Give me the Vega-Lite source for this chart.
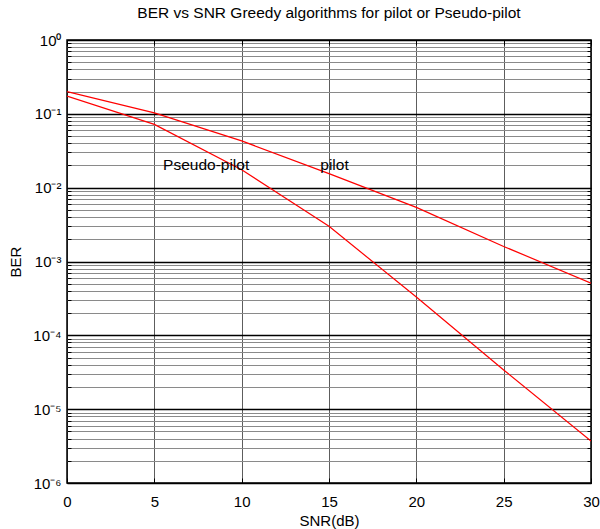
{
  "$schema": "https://vega.github.io/schema/vega-lite/v6.json",
  "autosize": {"type": "none"},
  "width": 524,
  "height": 443,
  "padding": {"left": 67, "top": 40, "right": 9, "bottom": 46},
  "background": "white",
  "config": {
    "font": "Liberation Sans",
    "view": {"stroke": "black", "strokeWidth": 1.5},
    "axis": {"domain": false, "labelFont": "Liberation Sans", "titleFont": "Liberation Sans", "labelColor": "black", "titleColor": "black", "titleFontWeight": "normal", "labelFontSize": 15, "titleFontSize": 15}
  },
  "title": {"text": "BER vs SNR Greedy algorithms for pilot or Pseudo-pilot", "fontSize": 15.5, "fontWeight": "normal", "font": "Liberation Sans", "color": "black", "offset": 12, "anchor": "middle"},
  "resolve": {"axis": {"x": "independent", "y": "independent"}},
  "data": {"values": [
    {"snr": 0, "ber": 0.2, "series": "pilot"},
    {"snr": 5, "ber": 0.103, "series": "pilot"},
    {"snr": 10, "ber": 0.043, "series": "pilot"},
    {"snr": 15, "ber": 0.0155, "series": "pilot"},
    {"snr": 20, "ber": 0.0054, "series": "pilot"},
    {"snr": 25, "ber": 0.0016, "series": "pilot"},
    {"snr": 30, "ber": 0.00051, "series": "pilot"},
    {"snr": 0, "ber": 0.174, "series": "Pseudo-pilot"},
    {"snr": 5, "ber": 0.072, "series": "Pseudo-pilot"},
    {"snr": 10, "ber": 0.0175, "series": "Pseudo-pilot"},
    {"snr": 15, "ber": 0.003, "series": "Pseudo-pilot"},
    {"snr": 20, "ber": 0.00033, "series": "Pseudo-pilot"},
    {"snr": 25, "ber": 0.000034, "series": "Pseudo-pilot"},
    {"snr": 30, "ber": 0.0000037, "series": "Pseudo-pilot"}
  ]},
  "layer": [
    {
      "mark": {"type": "line", "color": "#ff0000", "strokeWidth": 1.2, "clip": true},
      "encoding": {
        "x": {"field": "snr", "type": "quantitative",
          "scale": {"domain": [0, 30], "nice": false, "zero": false},
          "axis": {"title": "SNR(dB)", "values": [0, 5, 10, 15, 20, 25, 30], "grid": true, "gridColor": "black", "gridOpacity": 0.8, "gridWidth": 0.8, "tickSize": -5, "tickColor": "black", "labelPadding": 16, "titlePadding": 4, "labelFlush": false}},
        "y": {"field": "ber", "type": "quantitative",
          "scale": {"type": "log", "domain": [0.000001, 1], "nice": false},
          "axis": {
            "title": "BER", "titlePadding": 9,
            "values": [0.000001,0.000002,0.000003,0.000004,0.000005,0.000006,0.000007,0.000008,0.000009,
                       0.00001,0.00002,0.00003,0.00004,0.00005,0.00006,0.00007,0.00008,0.00009,
                       0.0001,0.0002,0.0003,0.0004,0.0005,0.0006,0.0007,0.0008,0.0009,
                       0.001,0.002,0.003,0.004,0.005,0.006,0.007,0.008,0.009,
                       0.01,0.02,0.03,0.04,0.05,0.06,0.07,0.08,0.09,
                       0.1,0.2,0.3,0.4,0.5,0.6,0.7,0.8,0.9,1],
            "labelExpr": "datum.value == 1 ? '10⁰' : abs(datum.value - 0.1) < 1e-9 ? '10⁻¹' : abs(datum.value - 0.01) < 1e-10 ? '10⁻²' : abs(datum.value - 0.001) < 1e-11 ? '10⁻³' : abs(datum.value - 0.0001) < 1e-12 ? '10⁻⁴' : abs(datum.value - 0.00001) < 1e-13 ? '10⁻⁵' : abs(datum.value - 0.000001) < 1e-14 ? '10⁻⁶' : ''",
            "labelOverlap": false,
            "labelBaseline": "middle",
            "labelPadding": 12,
            "grid": true,
            "gridColor": {"condition": {"test": "abs(log(datum.value)/LN10 - round(log(datum.value)/LN10)) < 1e-6", "value": "black"}, "value": "#8a8a8a"},
            "gridWidth": {"condition": {"test": "abs(log(datum.value)/LN10 - round(log(datum.value)/LN10)) < 1e-6", "value": 1.5}, "value": 1},
            "tickColor": "black",
            "tickSize": {"condition": {"test": "abs(log(datum.value)/LN10 - round(log(datum.value)/LN10)) < 1e-6", "value": -6}, "value": -4}
          }},
        "detail": {"field": "series", "type": "nominal"}
      }
    },
    {
      "data": {"values": [
        {"snr": 5.5, "ber": 0.0202, "label": "Pseudo-pilot"},
        {"snr": 14.5, "ber": 0.0202, "label": "pilot"}
      ]},
      "mark": {"type": "text", "align": "left", "baseline": "middle", "fontSize": 15.5, "font": "Liberation Sans", "color": "black"},
      "encoding": {
        "x": {"field": "snr", "type": "quantitative",
          "axis": {"orient": "top", "values": [0, 5, 10, 15, 20, 25, 30], "labels": false, "title": null, "grid": false, "tickSize": -5, "tickColor": "black"}},
        "y": {"field": "ber", "type": "quantitative",
          "axis": {"orient": "right", "labels": false, "title": null, "grid": false, "tickColor": "black",
            "values": [0.000001,0.000002,0.000003,0.000004,0.000005,0.000006,0.000007,0.000008,0.000009,
                       0.00001,0.00002,0.00003,0.00004,0.00005,0.00006,0.00007,0.00008,0.00009,
                       0.0001,0.0002,0.0003,0.0004,0.0005,0.0006,0.0007,0.0008,0.0009,
                       0.001,0.002,0.003,0.004,0.005,0.006,0.007,0.008,0.009,
                       0.01,0.02,0.03,0.04,0.05,0.06,0.07,0.08,0.09,
                       0.1,0.2,0.3,0.4,0.5,0.6,0.7,0.8,0.9,1],
            "tickSize": {"condition": {"test": "abs(log(datum.value)/LN10 - round(log(datum.value)/LN10)) < 1e-6", "value": -6}, "value": -4}}},
        "text": {"field": "label"}
      }
    }
  ]
}
